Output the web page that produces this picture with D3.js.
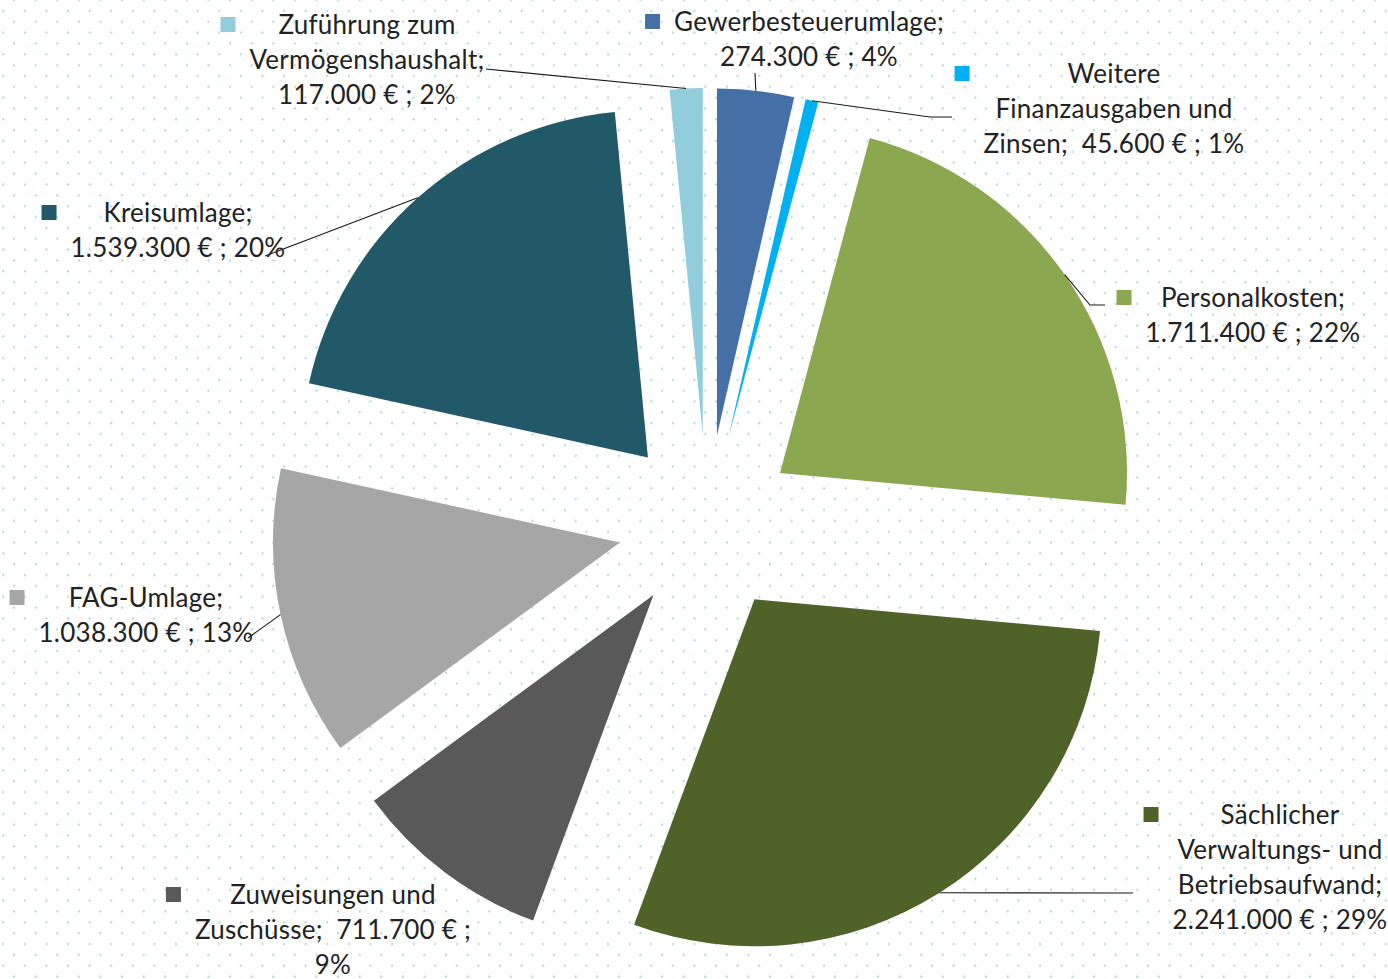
<!DOCTYPE html>
<html lang="de">
<head>
<meta charset="UTF-8">
<title>Ausgaben Verwaltungshaushalt</title>
<script src="https://d3js.org/d3.v7.min.js"></script>
<style>
    html, body { margin: 0; padding: 0; background: #fff; }
    svg { display: block; }
    .lbl { font-family: Lato, "Open Sans", sans-serif; font-size: 26px; letter-spacing: 0.25px; fill: #222; }
</style>
</head>
<body>
<div id="chart"></div>
<script>
// data (order = clockwise from 12 o'clock)
const categories = ["Gewerbesteuerumlage", "Weitere Finanzausgaben und Zinsen", "Personalkosten",
    "Sächlicher Verwaltungs- und Betriebsaufwand", "Zuweisungen und Zuschüsse", "FAG-Umlage",
    "Kreisumlage", "Zuführung zum Vermögenshaushalt"];
const values = [274300, 45600, 1711400, 2241000, 711700, 1038300, 1539300, 117000];
const percentLabels = ["4%", "1%", "22%", "29%", "9%", "13%", "20%", "2%"];
const labelLines = [
    ["Gewerbesteuerumlage;", "274.300 € ; 4%"],
    ["Weitere", "Finanzausgaben und", "Zinsen;  45.600 € ; 1%"],
    ["Personalkosten;", "1.711.400 € ; 22%"],
    ["Sächlicher", "Verwaltungs- und", "Betriebsaufwand;", "2.241.000 € ; 29%"],
    ["Zuweisungen und", "Zuschüsse;  711.700 € ;", "9%"],
    ["FAG-Umlage;", "1.038.300 € ; 13%"],
    ["Kreisumlage;", "1.539.300 € ; 20%"],
    ["Zuführung zum", "Vermögenshaushalt;", "117.000 € ; 2%"]
];
const colors = ["#4570a6", "#00b0f0", "#8ba74f", "#4f6228", "#595959", "#a6a6a6", "#215968", "#92cddc"];

// layout
const W = 1388, H = 979;
const cx = 707, cy = 524, R = 347, explode = 89;
const lineH = 34.8;
// label block centre x, first line y, leader end points
const labelPos = [
    {x: 809, y: 22, leader: [[755, 73]]},
    {x: 1114, y: 74, leader: [[930, 117], [952, 117]]},
    {x: 1253, y: 298, leader: [[1090, 305], [1105, 305]]},
    {x: 1280, y: 815, leader: [[1133, 893]]},
    {x: 333, y: 895, leader: null},
    {x: 146, y: 598, leader: [[248, 638]]},
    {x: 178, y: 213, leader: [[265, 256]]},
    {x: 367, y: 25, leader: [[486, 69]]}
];

const svg = d3.select("#chart").append("svg")
    .attr("width", W).attr("height", H);

// dotted background
const pat = svg.append("defs").append("pattern")
    .attr("id", "dots").attr("patternUnits", "userSpaceOnUse")
    .attr("x", -1.7).attr("y", 5.6)
    .attr("width", 21.6).attr("height", 21.7);
pat.append("circle").attr("cx", 5).attr("cy", 5.4).attr("r", 1.1).attr("fill", "#a3d5d9");
pat.append("circle").attr("cx", 15.8).attr("cy", 16.25).attr("r", 1.1).attr("fill", "#a3d5d9");
svg.append("rect").attr("width", W).attr("height", H).attr("fill", "url(#dots)");

const pie = d3.pie().sort(null).value(d => d)(values);
const arc = d3.arc().innerRadius(0).outerRadius(R);

const mid = d => (d.startAngle + d.endAngle) / 2;
const off = d => [explode * Math.sin(mid(d)), -explode * Math.cos(mid(d))];

svg.append("g").attr("transform", `translate(${cx},${cy})`)
    .selectAll("path")
    .data(pie)
    .join("path")
    .attr("d", arc)
    .attr("fill", (d, i) => colors[i])
    .attr("transform", d => `translate(${off(d)[0]},${off(d)[1]})`);

// leader lines
pie.forEach((d, i) => {
    const lp = labelPos[i];
    if (!lp.leader) return;
    const a = mid(d);
    const start = [cx + (explode + R) * Math.sin(a), cy - (explode + R) * Math.cos(a)];
    svg.append("path")
        .attr("d", d3.line()([start, ...lp.leader]))
        .attr("fill", "none")
        .attr("stroke", "#1a1a1a")
        .attr("stroke-width", 1.1);
});

// labels with legend keys
labelLines.forEach((lines, i) => {
    const lp = labelPos[i];
    const t = svg.append("text").attr("class", "lbl").attr("text-anchor", "middle");
    lines.forEach((s, k) => {
        t.append("tspan").attr("x", lp.x).attr("y", lp.y + k * lineH).attr("dy", "0.35em")
            .style("white-space", "pre").text(s);
    });
    const bb = t.node().getBBox();
    svg.append("rect")
        .attr("x", bb.x - 29).attr("y", lp.y - 8)
        .attr("width", 15).attr("height", 15)
        .attr("fill", colors[i]);
});
</script>
</body>
</html>
